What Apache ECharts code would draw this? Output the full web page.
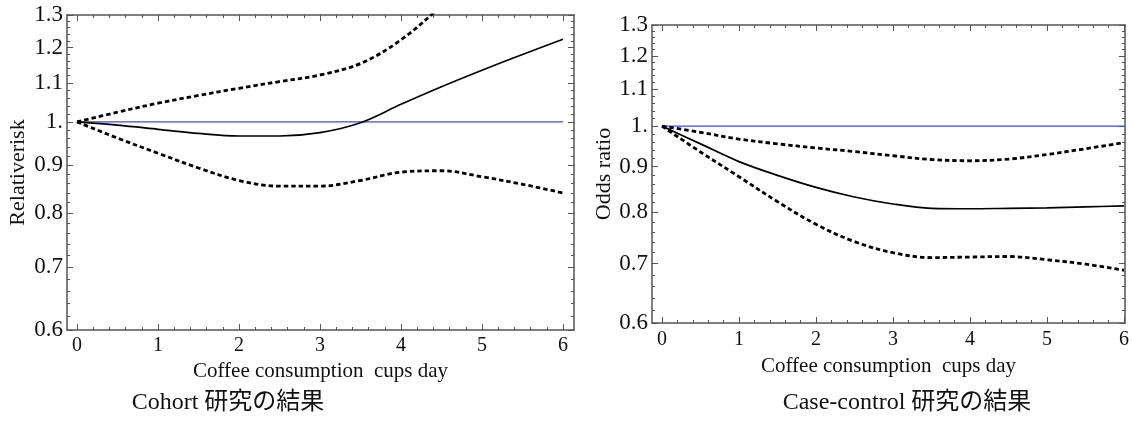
<!DOCTYPE html>
<html>
<head>
<meta charset="utf-8">
<script src="https://cdn.jsdelivr.net/npm/echarts@6/dist/echarts.min.js"></script>
<style>
  html, body { margin: 0; padding: 0; background: #fff; }
  #main { width: 1132px; height: 427px; }
</style>
</head>
<body>
<div id="main"></div>
<script>
// x 位置 (cups/day)
var cups = [0, 0.5, 1, 1.5, 2, 2.5, 3, 3.5, 4, 4.5, 5, 5.5, 6];

// Cohort: relative risk
var rrMid   = [1, 0.992, 0.982, 0.972, 0.966, 0.966, 0.974, 0.998, 1.044, 1.090, 1.135, 1.180, 1.225];
var rrUpper = [1, 1.024, 1.047, 1.067, 1.086, 1.104, 1.122, 1.154, 1.223, 1.330, 1.460, null, null];
var rrLower = [1, 0.961, 0.926, 0.893, 0.866, 0.854, 0.854, 0.866, 0.884, 0.887, 0.874, 0.858, 0.840];

// Case-control: odds ratio
var orMid   = [1, 0.955, 0.912, 0.880, 0.853, 0.832, 0.817, 0.808, 0.807, 0.808, 0.809, 0.811, 0.813];
var orUpper = [1, 0.984, 0.967, 0.955, 0.945, 0.936, 0.926, 0.917, 0.914, 0.918, 0.929, 0.943, 0.958];
var orLower = [1, 0.935, 0.877, 0.822, 0.775, 0.741, 0.720, 0.711, 0.712, 0.713, 0.707, 0.699, 0.688];

// 基準線 y = 1
var refX = [0, 6];
var refY = [1, 1];

// 目盛り
var xTicks = [0, 1, 2, 3, 4, 5, 6];
var yTicks = [0.6, 0.7, 0.8, 0.9, 1.0, 1.1, 1.2, 1.3];
var yTickLabels = ['0.6', '0.7', '0.8', '0.9', '1.', '1.1', '1.2', '1.3'];

var titles = ['Cohort 研究の結果', 'Case-control 研究の結果'];
var yNames = ['Relativerisk', 'Odds ratio'];
var xName = 'Coffee consumption  cups day';

var serif = '"Liberation Serif", "Noto Sans CJK JP", serif';
var frameColor = '#555';

// 小目盛り
var xMinor = [];
for (var i = 0; i <= 30; i++) { if (i % 5) xMinor.push(i / 5); }
var yMinor = [];
for (var j = 31; j <= 64; j++) { if (j % 5) yMinor.push(Math.log(j / 50)); }
var yMajor = yTicks.map(function (v) { return Math.log(v); });

function yLabel(v) {
    for (var k = 0; k < yMajor.length; k++) {
        if (Math.abs(yMajor[k] - v) < 1e-6) return yTickLabels[k];
    }
    return '';
}

function pairs(xs, ys) {
    var out = [];
    for (var k = 0; k < xs.length; k++) {
        out.push(ys[k] == null ? [xs[k], null] : [xs[k], Math.log(ys[k])]);
    }
    return out;
}

// 枠（Mathematica風の Frame）
function frameAxis(g, pos, min, max, ticks, len, line, label, extra) {
    var a = {
        type: 'value', gridIndex: g, position: pos, min: min, max: max,
        splitLine: { show: false },
        axisLine: { show: line, onZero: false, lineStyle: { color: frameColor, width: 1.5 } },
        axisTick: { show: true, inside: true, length: len, customValues: ticks,
                    lineStyle: { color: frameColor, width: 1 } },
        axisLabel: { show: false }
    };
    if (label) a.axisLabel = label;
    for (var key in extra) a[key] = extra[key];
    return a;
}

var grids = [
    { left: 67, top: 15, width: 507, height: 315 },
    { left: 652, top: 25, width: 474, height: 298 }
];
var xRange = [[-0.123, 6.136], [-0.13, 6.013]];
var xNameGap = [28, 33];
var yNameGap = [38, 35];
var xLabelMargin = [6, 7];
var yMin = Math.log(0.6), yMax = Math.log(1.3);

var xAxes = [], yAxes = [];
for (var g = 0; g < 2; g++) {
    var xmin = xRange[g][0], xmax = xRange[g][1];
    xAxes.push(frameAxis(g, 'bottom', xmin, xmax, xTicks, 6, true,
        { show: true, customValues: xTicks, margin: xLabelMargin[g],
          fontFamily: serif, fontSize: 20, color: '#111' },
        { name: xName, nameLocation: 'middle', nameGap: xNameGap[g],
          nameTextStyle: { fontFamily: serif, fontSize: 21, color: '#111' } }));
    xAxes.push(frameAxis(g, 'bottom', xmin, xmax, xMinor, 3, false));
    xAxes.push(frameAxis(g, 'top', xmin, xmax, xTicks, 6, true));
    xAxes.push(frameAxis(g, 'top', xmin, xmax, xMinor, 3, false));

    yAxes.push(frameAxis(g, 'left', yMin, yMax, yMajor, 6, true,
        { show: true, customValues: yMajor, margin: 4, formatter: yLabel,
          fontFamily: serif, fontSize: 23, color: '#111' },
        { name: yNames[g], nameLocation: 'middle', nameGap: yNameGap[g],
          nameTextStyle: { fontFamily: serif, fontSize: 22, color: '#111' } }));
    yAxes.push(frameAxis(g, 'left', yMin, yMax, yMinor, 3, false));
    yAxes.push(frameAxis(g, 'right', yMin, yMax, yMajor, 6, true));
    yAxes.push(frameAxis(g, 'right', yMin, yMax, yMinor, 3, false));
}

function curve(g, data, kind) {
    var s = {
        type: 'line', xAxisIndex: g * 4, yAxisIndex: g * 4, data: data,
        showSymbol: false, symbol: 'none', smooth: 0.35, clip: true,
        silent: true, animation: false
    };
    if (kind === 'ref') {
        s.smooth = false;
        s.lineStyle = { color: '#3a46f5', width: 1.2 };
    } else if (kind === 'solid') {
        s.lineStyle = { color: '#000', width: 1.7 };
    } else {
        s.lineStyle = { color: '#000', width: 2.8, type: [4.5, 3] };
    }
    return s;
}

var chart = echarts.init(document.getElementById('main'));
chart.setOption({
    backgroundColor: '#fff',
    animation: false,
    grid: grids,
    xAxis: xAxes,
    yAxis: yAxes,
    series: [
        curve(0, pairs(refX, refY), 'ref'),
        curve(0, pairs(cups, rrMid), 'solid'),
        curve(0, pairs(cups, rrUpper), 'dash'),
        curve(0, pairs(cups, rrLower), 'dash'),
        curve(1, pairs(refX, refY), 'ref'),
        curve(1, pairs(cups, orMid), 'solid'),
        curve(1, pairs(cups, orUpper), 'dash'),
        curve(1, pairs(cups, orLower), 'dash')
    ],
    graphic: [
        { type: 'text', x: 228, y: 403,
          style: { text: titles[0], font: '24px ' + serif, fill: '#111',
                   textAlign: 'center', textVerticalAlign: 'middle' } },
        { type: 'text', x: 907, y: 403,
          style: { text: titles[1], font: '24px ' + serif, fill: '#111',
                   textAlign: 'center', textVerticalAlign: 'middle' } }
    ]
});
</script>
</body>
</html>
